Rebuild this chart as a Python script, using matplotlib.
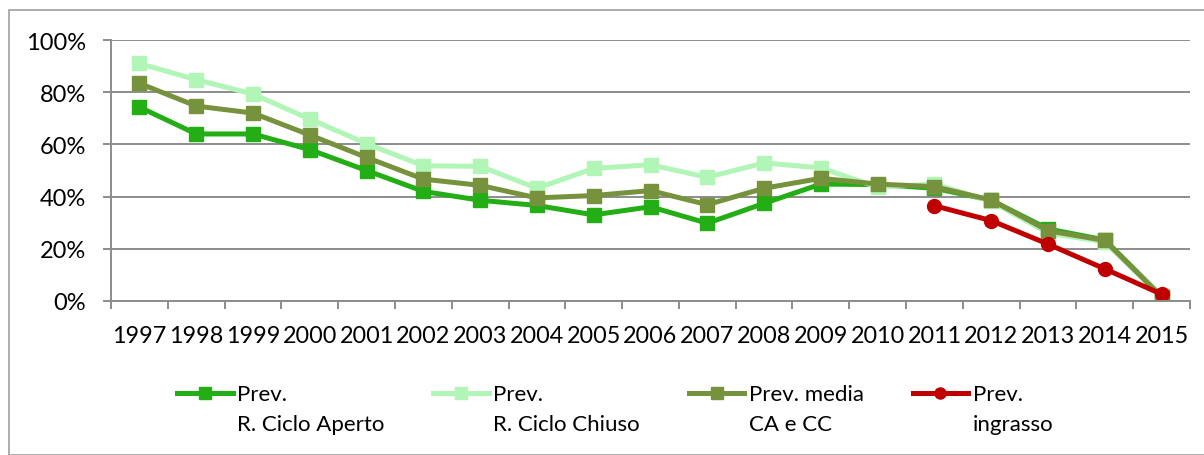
import numpy as np
import matplotlib
matplotlib.use("Agg")
import matplotlib.pyplot as plt
from matplotlib.patches import Rectangle
from matplotlib.legend_handler import HandlerLine2D
from matplotlib.ticker import PercentFormatter

plt.rcParams['font.family'] = ['Lato', 'DejaVu Sans']

# Data (percent)
years = ['1997', '1998', '1999', '2000', '2001', '2002', '2003', '2004', '2005', '2006',
         '2007', '2008', '2009', '2010', '2011', '2012', '2013', '2014', '2015']
ciclo_aperto = [74.3, 64, 64, 58, 50, 42, 38.6, 36.6, 33, 36.1,
                29.8, 37.4, 44.8, 44.6, 43.2, 38.6, 27.6, 23.4, 1.8]
ciclo_chiuso = [91, 84.8, 79.3, 69.7, 60.3, 51.8, 51.6, 43.2, 50.8, 52.2,
                47.4, 52.9, 51.0, 43.6, 44.8, 38.2, 26.0, 22.6, 1.8]
media_ca_cc = [83.4, 74.7, 72, 63.6, 55, 46.7, 44.3, 39.5, 40.4, 42.3,
               36.9, 43.2, 47, 44.8, 43.8, 38.7, 26.9, 23.2, 1.6]
ingrasso_years = ['2011', '2012', '2013', '2014', '2015']
ingrasso = [36.5, 30.8, 21.8, 12.3, 2.6]

labels = ['Prev.\nR. Ciclo Aperto', 'Prev.\nR. Ciclo Chiuso', 'Prev. media\nCA e CC', 'Prev.\ningrasso']
colors = ['#22ae14', '#b1f5b7', '#77923c', '#c00000']

fig = plt.figure(figsize=(12.04, 4.56), dpi=100)
ax = fig.add_axes([111 / 1204, 1 - 302 / 456, (1190 - 111) / 1204, (302 - 41) / 456])

x = np.arange(len(years))
xi = np.array([years.index(y) for y in ingrasso_years])

ax.plot(x, ciclo_aperto, color=colors[0], lw=3.6, marker='s', ms=10, label=labels[0])
ax.plot(x, ciclo_chiuso, color=colors[1], lw=3.6, marker='s', ms=10, label=labels[1])
ax.plot(x, media_ca_cc, color=colors[2], lw=3.6, marker='s', ms=10, label=labels[2])
ax.plot(xi, ingrasso, color=colors[3], lw=3.6, marker='o', ms=10, label=labels[3])

ax.set_xlim(-0.5, len(years) - 0.5)
ax.set_ylim(0, 100)
ax.set_yticks(np.arange(0, 101, 20))
ax.yaxis.set_major_formatter(PercentFormatter(decimals=0))
ax.set_xticks(x)
ax.set_xticklabels(years)
ax.set_xticks(np.arange(-0.5, len(years), 1), minor=True)

grid_col = '#8c8c8c'
ax.grid(axis='y', color=grid_col, lw=1.4)
ax.set_axisbelow(True)
for s in ['top', 'right']:
    ax.spines[s].set_visible(False)
for s in ['left', 'bottom']:
    ax.spines[s].set_color(grid_col)
    ax.spines[s].set_linewidth(1.4)
ax.tick_params(axis='x', which='major', length=0, pad=17, labelsize=16.8)
ax.tick_params(axis='x', which='minor', length=6, color=grid_col, width=1.4)
ax.tick_params(axis='y', length=6, color=grid_col, width=1.4, labelsize=17, pad=12)


class TopLineHandler(HandlerLine2D):
    # put the legend line next to the first text line
    def create_artists(self, legend, orig_handle, xdescent, ydescent, width, height, fontsize, trans):
        arts = super().create_artists(legend, orig_handle, xdescent, ydescent, width, height, fontsize, trans)
        for a in arts:
            a.set_ydata(np.asarray(a.get_ydata(), dtype=float) + 12)
        return arts


handles = ax.get_lines()
leg = fig.legend(handles, labels, loc='upper left', bbox_to_anchor=(177 / 1204, 1 - 385 / 456),
                 ncol=4, frameon=False, fontsize=16, borderpad=0, borderaxespad=0,
                 handlelength=2.5, handletextpad=0.2, columnspacing=2.2, markerscale=0.8,
                 handler_map={h: TopLineHandler() for h in handles})
for t in leg.get_texts():
    t.set_linespacing(1.65)

fig.patches.append(Rectangle((9 / 1204, 0), 1.2, 1 - 11 / 456, transform=fig.transFigure,
                             fill=False, edgecolor='#a0a0a0', lw=1.2))

fig.savefig('out.png', dpi=100)
